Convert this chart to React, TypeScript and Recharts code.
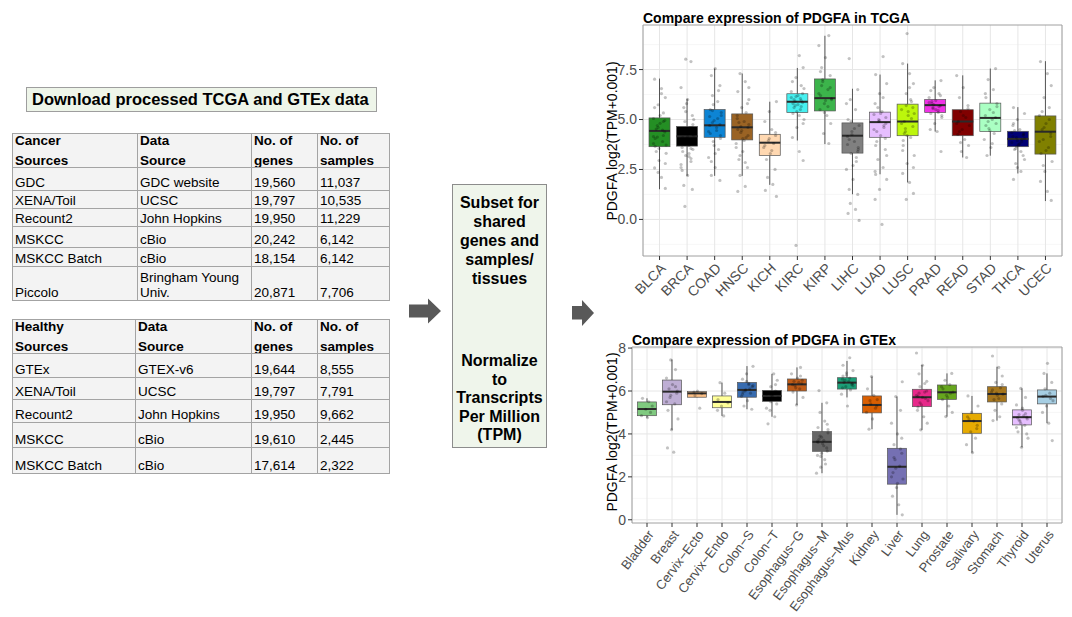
import React from 'react';
import { ComposedChart, Bar, Scatter, XAxis, YAxis, CartesianGrid, ReferenceArea } from 'recharts';

const FONT = "'Liberation Sans', Arial, Helvetica, sans-serif";

// ---- left tables ----
const CANCER_HEADER = ['Cancer\nSources', 'Data\nSource', 'No. of\ngenes', 'No. of\nsamples'];
const CANCER_ROWS = [
  ['GDC', 'GDC website', '19,560', '11,037'],
  ['XENA/Toil', 'UCSC', '19,797', '10,535'],
  ['Recount2', 'John Hopkins', '19,950', '11,229'],
  ['MSKCC', 'cBio', '20,242', '6,142'],
  ['MSKCC Batch', 'cBio', '18,154', '6,142'],
  ['Piccolo', 'Bringham Young\nUniv.', '20,871', '7,706'],
];
const HEALTHY_HEADER = ['Healthy\nSources', 'Data\nSource', 'No. of\ngenes', 'No. of\nsamples'];
const HEALTHY_ROWS = [
  ['GTEx', 'GTEX-v6', '19,644', '8,555'],
  ['XENA/Toil', 'UCSC', '19,797', '7,791'],
  ['Recount2', 'John Hopkins', '19,950', '9,662'],
  ['MSKCC', 'cBio', '19,610', '2,445'],
  ['MSKCC Batch', 'cBio', '17,614', '2,322'],
];

// ---- TCGA panel ----
const TCGA_CATS = ['BLCA', 'BRCA', 'COAD', 'HNSC', 'KICH', 'KIRC', 'KIRP', 'LIHC', 'LUAD', 'LUSC', 'PRAD', 'READ', 'STAD', 'THCA', 'UCEC'];
const TCGA_COLORS = ['#248f24', '#000000', '#0d84d4', '#9a6324', '#ffd8b1', '#46f0f0', '#3cb44b', '#808080', '#e6beff', '#bcf60c', '#f032e6', '#800000', '#aaffc3', '#000075', '#808000'];
const TCGA_LO = [1.51, 2.18, 2.18, 2.18, 1.73, 3.95, 3.77, 1.26, 2.26, 1.85, 4.4, 3.1, 3.19, 2.3, 0.92];
const TCGA_Q1 = [3.64, 3.67, 4.11, 3.98, 3.2, 5.35, 5.43, 3.32, 4.11, 4.19, 5.35, 4.19, 4.4, 3.64, 3.27];
const TCGA_MED = [4.43, 4.16, 4.71, 4.61, 3.84, 5.89, 6.07, 4.19, 4.87, 4.9, 5.72, 4.9, 5.08, 4.03, 4.39];
const TCGA_Q3 = [5.08, 4.65, 5.5, 5.28, 4.26, 6.29, 7.03, 4.83, 5.37, 5.77, 6.0, 5.49, 5.82, 4.41, 5.18];
const TCGA_HI = [7.05, 6.04, 7.55, 7.3, 5.89, 7.58, 9.19, 6.54, 7.25, 7.8, 6.96, 7.21, 7.55, 5.62, 7.92];
const TCGA_POINTS = [
  [7.02, 6.55, 6.1, 5.74, 5.33, 5.05, 4.81, 4.52, 4.38, 4.12, 3.9, 3.66, 3.31, 2.95, 2.58, 2.1, 1.55, 4.6, 4.2, 3.8, 5.2, 3.4, 4.95, 4.7, 4.47, 4.05, 3.72, 3.55, 5.6, 6.3, 2.8, 2.35, 4.9, 4.15],
  [8.02, 7.9, 6.6, 6.0, 5.6, 5.2, 4.9, 4.6, 4.4, 4.2, 4.05, 3.85, 3.7, 3.5, 3.2, 2.9, 2.6, 2.2, 1.7, 1.5, 0.65, 4.3, 4.1, 3.95, 4.5, 3.6, 3.3, 4.75, 5.4, 3.05, 4.35, 4.15, 3.9, 4.6, 3.75, 4.45, 3.4, 5.0, 5.8, 2.45, 3.15, 4.25, 4.0, 3.55, 2.75],
  [7.55, 7.2, 6.7, 6.2, 5.9, 5.5, 5.2, 4.95, 4.7, 4.45, 4.2, 3.9, 3.5, 3.1, 2.6, 2.2, 1.95, 4.85, 5.05, 4.3, 5.35, 3.7, 5.15, 4.6, 4.05, 5.75, 6.45, 4.4, 3.3, 2.9, 4.75, 5.45],
  [7.3, 6.9, 6.4, 6.0, 5.6, 5.2, 4.9, 4.6, 4.35, 4.1, 3.8, 3.4, 3.0, 2.6, 2.2, 1.65, 1.4, 4.75, 4.45, 5.05, 3.95, 4.2, 4.65, 5.35, 3.6, 4.05, 4.85, 5.8, 3.2, 2.85, 4.5, 6.6],
  [5.9, 5.4, 4.9, 4.5, 4.2, 3.95, 3.8, 3.6, 3.3, 3.0, 2.5, 2.1, 1.75, 1.45, 1.15, 4.05, 3.7, 3.45, 4.35],
  [8.2, 7.6, 7.1, 6.7, 6.4, 6.2, 6.0, 5.85, 5.7, 5.5, 5.3, 5.0, 4.6, 4.1, 3.4, 2.95, -1.3, 5.95, 6.1, 5.75, 5.6, 6.3, 5.9, 6.05, 5.8, 6.55, 5.4, 6.9, 5.2, 4.8, 6.15, 5.65],
  [9.2, 8.7, 8.1, 7.6, 7.2, 6.9, 6.5, 6.2, 6.0, 5.8, 5.5, 5.2, 4.8, 4.3, 3.8, 6.3, 5.95, 6.7, 6.6, 7.0, 5.65, 7.4, 6.05, 5.35],
  [8.05, 6.5, 6.0, 5.5, 5.0, 4.7, 4.4, 4.15, 3.9, 3.6, 3.3, 2.9, 2.5, 2.0, 1.5, 1.25, 0.8, 0.5, 0.3, -0.05, 4.25, 3.75, 4.55, 3.5, 4.9, 3.1, 5.8, 2.7, 4.0, 3.4],
  [8.15, 7.25, 6.8, 6.3, 5.8, 5.4, 5.1, 4.9, 4.7, 4.5, 4.2, 3.9, 3.5, 3.0, 2.6, 2.25, 2.0, 1.5, 1.0, -0.25, 4.8, 5.0, 4.6, 5.25, 5.3, 4.4, 4.05, 5.6, 6.1, 3.7, 3.2, 4.95, 2.4],
  [9.3, 7.8, 7.3, 6.8, 6.3, 5.9, 5.5, 5.2, 4.9, 4.65, 4.4, 4.1, 3.7, 3.2, 2.8, 2.3, 1.85, 1.3, 1.0, 5.05, 4.8, 5.4, 4.3, 5.6, 4.55, 6.0, 3.95, 5.3, 4.2, 3.45, 6.6, 2.6, 5.7],
  [6.95, 6.6, 6.3, 6.1, 5.95, 5.8, 5.7, 5.6, 5.45, 5.3, 5.1, 4.8, 4.5, 4.4, 3.4, 5.75, 5.65, 5.85, 5.5, 5.9, 6.2, 5.55, 5.35, 6.45, 5.2],
  [7.2, 6.6, 6.1, 5.7, 5.4, 5.1, 4.9, 4.7, 4.5, 4.25, 4.0, 3.7, 3.4, 3.1, 4.8, 5.2, 4.4, 5.55, 3.85],
  [7.55, 7.0, 6.5, 6.1, 5.8, 5.5, 5.2, 5.0, 4.8, 4.55, 4.3, 4.0, 3.6, 3.2, 5.1, 4.9, 5.35, 4.7, 5.65, 4.45, 6.3, 3.8],
  [5.6, 5.3, 5.0, 4.7, 4.5, 4.3, 4.1, 4.0, 3.85, 3.7, 3.5, 3.2, 2.8, 2.4, 2.0, 4.05, 3.95, 4.15, 3.8, 4.25, 3.65, 3.9, 4.35, 3.75, 4.45, 4.2, 3.55, 3.4, 4.8, 3.0, 2.6],
  [7.9, 7.3, 6.7, 6.1, 5.6, 5.2, 4.8, 4.5, 4.3, 4.0, 3.6, 3.3, 2.9, 2.4, 1.9, 1.4, 0.95, 4.6, 5.0, 3.9, 3.45, 5.4, 4.15, 2.7],
];
const TCGA_Y_TICKS = [0, 2.5, 5, 7.5];
const TCGA_Y_MINOR = [-1.25, 1.25, 3.75, 6.25, 8.75];

// ---- GTEx panel ----
const GTEX_CATS = ['Bladder', 'Breast', 'Cervix\u2212Ecto', 'Cervix\u2212Endo', 'Colon\u2212S', 'Colon\u2212T', 'Esophagus\u2212G', 'Esophagus\u2212M', 'Esophagus\u2212Mus', 'Kidney', 'Liver', 'Lung', 'Prostate', 'Salivary', 'Stomach', 'Thyroid', 'Uterus'];
const GTEX_COLORS = ['#7fc97f', '#beaed4', '#fdc086', '#ffff99', '#386cb0', '#000000', '#bf5b17', '#666666', '#1b9e77', '#d95f02', '#7570b3', '#e7298a', '#66a61e', '#e6ab02', '#a6761d', '#e6beff', '#a6cee3'];
const GTEX_LO = [4.76, 4.19, 5.7, 4.84, 5.15, 4.8, 5.35, 2.17, 5.7, 4.22, 0.23, 4.19, 4.81, 3.13, 4.62, 3.38, 4.5];
const GTEX_Q1 = [4.85, 5.36, 5.71, 5.22, 5.71, 5.52, 6.0, 3.19, 6.09, 4.98, 1.66, 5.27, 5.61, 4.03, 5.49, 4.42, 5.4];
const GTEX_MED = [5.16, 5.97, 5.89, 5.49, 6.05, 5.77, 6.31, 3.63, 6.39, 5.35, 2.47, 5.71, 5.94, 4.6, 5.86, 4.78, 5.74];
const GTEX_Q3 = [5.49, 6.51, 5.97, 5.77, 6.4, 6.03, 6.56, 4.11, 6.62, 5.77, 3.33, 6.08, 6.28, 4.96, 6.2, 5.12, 6.05];
const GTEX_HI = [5.66, 7.47, 6.0, 6.39, 7.16, 6.8, 7.1, 5.45, 7.4, 6.67, 5.74, 7.21, 6.82, 5.77, 7.13, 6.12, 6.82];
const GTEX_POINTS = [
  [5.66, 5.5, 5.3, 5.15, 5.0, 4.85, 4.76],
  [7.45, 7.0, 6.6, 6.3, 6.1, 5.9, 5.7, 5.4, 5.1, 4.7, 4.2, 3.35, 3.15, 6.0, 5.8, 6.2, 5.5],
  [6.0, 5.95, 5.88, 5.78, 5.2],
  [6.39, 5.9, 5.6, 5.45, 5.3, 5.1, 4.84],
  [7.15, 6.8, 6.55, 6.35, 6.2, 6.05, 5.9, 5.75, 5.55, 5.3, 5.15, 6.0, 6.1, 5.95, 6.25, 6.45, 5.85, 6.3],
  [6.8, 6.5, 6.2, 6.0, 5.85, 5.75, 5.6, 5.4, 5.1, 4.8, 4.47, 5.7, 5.8, 5.65, 5.9, 5.95, 5.5, 6.3, 5.2],
  [7.1, 6.8, 6.6, 6.45, 6.35, 6.25, 6.1, 5.95, 5.7, 5.35, 6.3, 6.4, 6.5, 6.15, 6.7],
  [6.02, 5.45, 5.0, 4.6, 4.3, 4.05, 3.85, 3.65, 3.45, 3.2, 2.95, 2.6, 2.17, 3.55, 3.75, 3.35, 3.9, 2.8, 3.6, 4.2, 3.1, 3.0, 3.7, 4.45, 2.45],
  [7.55, 7.2, 6.95, 6.75, 6.55, 6.45, 6.35, 6.2, 6.05, 5.85, 5.3, 6.4, 6.3, 6.5, 6.6, 6.7, 6.25, 6.85, 6.15],
  [6.67, 6.1, 5.8, 5.6, 5.4, 5.2, 5.0, 4.7, 4.22, 5.3, 5.55],
  [6.43, 5.74, 5.1, 4.5, 4.0, 3.5, 3.1, 2.8, 2.5, 2.2, 1.9, 1.5, 1.1, 0.7, 0.23, 2.4, 3.3, 2.0, 1.7, 2.9, 3.8],
  [7.77, 7.2, 6.8, 6.45, 6.2, 5.95, 5.75, 5.55, 5.35, 5.1, 4.8, 4.5, 4.19, 5.65, 5.8, 5.7, 5.9, 6.0, 5.45, 6.35, 5.25],
  [6.82, 6.5, 6.3, 6.1, 5.95, 5.8, 5.6, 5.3, 5.0, 4.81, 5.9, 6.2, 5.7],
  [5.77, 5.3, 5.0, 4.8, 4.6, 4.4, 4.1, 3.8, 3.5, 3.13, 4.7, 4.25],
  [7.63, 7.1, 6.7, 6.4, 6.15, 5.95, 5.8, 5.6, 5.4, 5.1, 4.8, 4.62, 5.85, 5.9, 6.05, 5.65, 6.3],
  [6.12, 5.7, 5.35, 5.1, 4.9, 4.78, 4.6, 4.4, 4.1, 3.8, 3.38, 4.75, 4.85, 4.7, 4.5, 4.95, 4.3, 5.2, 4.65, 4.0],
  [7.29, 6.82, 6.4, 6.1, 5.9, 5.75, 5.55, 5.3, 5.0, 4.5, 3.69, 5.8, 5.65],
];
const GTEX_Y_TICKS = [0, 2, 4, 6, 8];
const GTEX_Y_MINOR = [1, 3, 5, 7];

// horizontal spread pattern for the jittered dots (display only)
const JITTER = [-0.18, 0.07, 0.21, -0.05, 0.14, -0.22, 0.02, -0.12, 0.19, -0.08, 0.11, -0.16, 0.24, -0.02];

const BoxShape = (props: any) => {
  const { x, y, width, height, boxW } = props;
  const d = props.payload || props;
  const top = Math.min(y, y + height);
  const bot = Math.max(y, y + height);
  const [lo, hi] = d.range;
  const py = (v: number) => bot - ((v - lo) / (hi - lo)) * (bot - top);
  const cx = x + (width || 0) / 2;
  const bx = cx - boxW / 2;
  const yq3 = py(d.q3);
  const yq1 = py(d.q1);
  const ym = py(d.med);
  return (
    <g>
      <line x1={cx} x2={cx} y1={top} y2={bot} stroke="#444" strokeWidth={0.9} />
      <rect x={bx} y={yq3} width={boxW} height={yq1 - yq3} fill={d.color} stroke="#555" strokeWidth={0.7} />
      <line x1={bx} x2={bx + boxW} y1={ym} y2={ym} stroke="#2a2a2a" strokeWidth={2} />
    </g>
  );
};

const Dot = (p: any) => <circle cx={p.cx} cy={p.cy} r={1.6} fill="#000" fillOpacity={0.24} />;

const XTick = ({ x, y, payload, names, angle, size }: any) => (
  <text x={x} y={y} dy="0.72em" textAnchor="end" fontSize={size} fill="#4d4d4d" transform={`rotate(${-angle} ${x} ${y})`}>
    {names[Math.round(payload.value) - 1]}
  </text>
);

function BoxPanel(props: any) {
  const { cats, colors, lo, q1, med, q3, hi, points, yDomain, yTicks, yMinor, yFmt, width, height, yAxisWidth, top, xAxisHeight, barSize, labelAngle, labelSize } = props;
  const n = cats.length;
  const rows = cats.map((c: string, i: number) => ({ x: i + 1, name: c, range: [lo[i], hi[i]], q1: q1[i], med: med[i], q3: q3[i], color: colors[i] }));
  const pts = points.flatMap((vals: number[], i: number) =>
    vals.map((v, j) => ({ x: i + 1 + JITTER[(j + i * 3) % JITTER.length], y: v }))
  );
  const xTicks = cats.map((_: string, i: number) => i + 1);
  return (
    <ComposedChart width={width} height={height} data={rows} margin={{ top, right: 10, bottom: 0, left: 0 }}>
      <CartesianGrid horizontalValues={yMinor} vertical={false} stroke="#f1f1f1" strokeWidth={0.6} />
      <CartesianGrid horizontalValues={yTicks} stroke="#e6e6e6" />
      <XAxis
        type="number"
        dataKey="x"
        domain={[0.4, n + 0.6]}
        ticks={xTicks}
        interval={0}
        allowDataOverflow
        axisLine={false}
        tickSize={4}
        tickLine={{ stroke: '#333' }}
        height={xAxisHeight}
        tick={(p: any) => <XTick {...p} names={cats} angle={labelAngle} size={labelSize} />}
      />
      <YAxis
        type="number"
        domain={yDomain}
        ticks={yTicks}
        allowDataOverflow
        width={yAxisWidth}
        axisLine={false}
        tickSize={4}
        tickLine={{ stroke: '#333' }}
        tick={{ fill: '#4d4d4d', fontSize: 14 }}
        tickFormatter={yFmt}
      />
      <Bar dataKey="range" barSize={barSize} shape={(p: any) => <BoxShape {...p} boxW={barSize} />} isAnimationActive={false} />
      <Scatter data={pts} dataKey="y" shape={Dot} isAnimationActive={false} />
      <ReferenceArea x1={0.4} x2={n + 0.6} y1={yDomain[0]} y2={yDomain[1]} fill="none" stroke="#a0a0a0" strokeWidth={1} ifOverflow="visible" />
    </ComposedChart>
  );
}

function GridTable({ cols, rowEdges, header, rows }: any) {
  const all = [header, ...rows];
  const cells: any[] = [];
  all.forEach((row: string[], r: number) =>
    row.forEach((txt, c) => {
      const head = r === 0;
      cells.push(
        <div
          key={`${r}-${c}`}
          style={{
            position: 'absolute',
            left: cols[c],
            top: rowEdges[r],
            width: cols[c + 1] - cols[c] + 1,
            height: rowEdges[r + 1] - rowEdges[r] + 1,
            boxSizing: 'border-box',
            border: '1px solid #a3a3a3',
            background: '#f3f3f3',
            display: 'flex',
            alignItems: head ? 'flex-start' : 'flex-end',
            padding: '0 2px',
            fontSize: 13.5,
            lineHeight: head ? '19.5px' : '15px',
            fontWeight: head ? 'bold' : 'normal',
            whiteSpace: 'pre-line',
            overflow: 'hidden',
          }}
        >
          <div style={{ marginTop: head ? -3 : 0 }}>{txt}</div>
        </div>
      );
    })
  );
  return <>{cells}</>;
}

export default function App() {
  return (
    <div style={{ position: 'absolute', left: 0, top: 0, width: 1072, height: 617, background: '#fff', fontFamily: FONT, color: '#000', overflow: 'hidden' }}>
      <div
        style={{
          position: 'absolute', left: 26, top: 87, width: 351, height: 25, boxSizing: 'border-box',
          border: '1px solid #9e9e9e', background: '#eef5e9', fontWeight: 'bold', fontSize: 16.5,
          lineHeight: '23px', paddingLeft: 5, whiteSpace: 'nowrap',
        }}
      >
        Download processed TCGA and GTEx data
      </div>

      <GridTable cols={[12, 137, 251, 317, 389]} rowEdges={[133, 167, 190, 208, 226, 247, 266, 300]} header={CANCER_HEADER} rows={CANCER_ROWS} />
      <GridTable cols={[12, 135, 251, 317, 389]} rowEdges={[319, 353, 377, 399, 422, 447, 473]} header={HEALTHY_HEADER} rows={HEALTHY_ROWS} />

      <div
        style={{
          position: 'absolute', left: 452, top: 184, width: 95, height: 264, boxSizing: 'border-box',
          border: '1px solid #8c8c8c', background: '#eff5eb', fontWeight: 'bold', fontSize: 16, textAlign: 'center',
        }}
      >
        <div style={{ position: 'absolute', left: 0, right: 0, top: 8, lineHeight: '19px' }}>
          Subset for<br />shared<br />genes and<br />samples/<br />tissues
        </div>
        <div style={{ position: 'absolute', left: 0, right: 0, top: 167, lineHeight: '18.5px' }}>
          Normalize<br />to<br />Transcripts<br />Per Million<br />(TPM)
        </div>
      </div>

      <div style={{ position: 'absolute', left: 590, top: 0 }}>
        <BoxPanel
          cats={TCGA_CATS} colors={TCGA_COLORS} lo={TCGA_LO} q1={TCGA_Q1} med={TCGA_MED} q3={TCGA_Q3} hi={TCGA_HI}
          points={TCGA_POINTS} yDomain={[-1.83, 9.73]} yTicks={TCGA_Y_TICKS} yMinor={TCGA_Y_MINOR}
          yFmt={(v: number) => v.toFixed(1)} width={482} height={330} yAxisWidth={53} top={25} xAxisHeight={74}
          barSize={21} labelAngle={45} labelSize={14}
        />
      </div>
      <div style={{ position: 'absolute', left: 590, top: 320 }}>
        <BoxPanel
          cats={GTEX_CATS} colors={GTEX_COLORS} lo={GTEX_LO} q1={GTEX_Q1} med={GTEX_MED} q3={GTEX_Q3} hi={GTEX_HI}
          points={GTEX_POINTS} yDomain={[-0.15, 8.05]} yTicks={GTEX_Y_TICKS} yMinor={GTEX_Y_MINOR}
          yFmt={(v: number) => String(v)} width={482} height={297} yAxisWidth={42} top={27} xAxisHeight={94}
          barSize={19} labelAngle={53} labelSize={13}
        />
      </div>

      <svg width={1072} height={617} style={{ position: 'absolute', left: 0, top: 0, pointerEvents: 'none' }}>
        <polygon points="409,304.5 428,304.5 428,298.5 441,311 428,323.5 428,317.5 409,317.5" fill="#595959" />
        <polygon points="572,306 582,306 582,300 594,313 582,326 582,319.5 572,319.5" fill="#595959" />
        <text x={643} y={23} fontSize={14} fontWeight="bold" fill="#000">Compare expression of PDGFA in TCGA</text>
        <text x={632} y={345} fontSize={14} fontWeight="bold" fill="#000">Compare expression of PDGFA in GTEx</text>
        <text x={612} y={141} fontSize={14} fill="#000" textAnchor="middle" dominantBaseline="central" transform="rotate(-90 612 141)">PDGFA log2(TPM+0.001)</text>
        <text x={612} y={432} fontSize={14} fill="#000" textAnchor="middle" dominantBaseline="central" transform="rotate(-90 612 432)">PDGFA log2(TPM+0.001)</text>
      </svg>
    </div>
  );
}
